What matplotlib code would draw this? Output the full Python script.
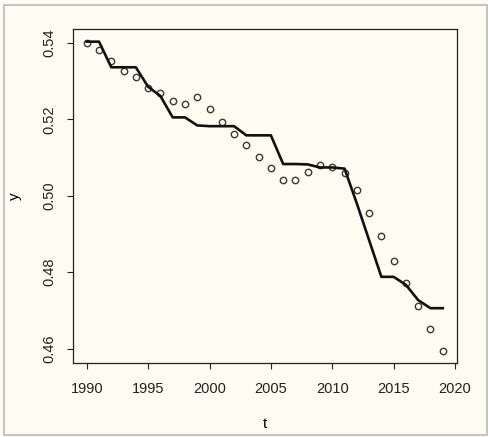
import matplotlib
matplotlib.use("Agg")
import matplotlib.pyplot as plt
from matplotlib.patches import Rectangle

# Jahre und Werte
years = [1990, 1991, 1992, 1993, 1994, 1995, 1996, 1997, 1998, 1999,
         2000, 2001, 2002, 2003, 2004, 2005, 2006, 2007, 2008, 2009,
         2010, 2011, 2012, 2013, 2014, 2015, 2016, 2017, 2018, 2019]

observed = [0.5400, 0.5381, 0.5353, 0.5326, 0.5311, 0.5282, 0.5269, 0.5248, 0.5239, 0.5259,
            0.5227, 0.5193, 0.5161, 0.5132, 0.5101, 0.5072, 0.5040, 0.5040, 0.5063, 0.5080,
            0.5074, 0.5060, 0.5016, 0.4956, 0.4895, 0.4830, 0.4772, 0.4713, 0.4652, 0.4595]

fitted = [0.5403, 0.5403, 0.5336, 0.5336, 0.5336, 0.5285, 0.5261, 0.5205, 0.5205, 0.5184,
          0.5182, 0.5182, 0.5182, 0.5158, 0.5158, 0.5158, 0.5083, 0.5083, 0.5082, 0.5074,
          0.5074, 0.5071, 0.4980, 0.4884, 0.4788, 0.4788, 0.4767, 0.4727, 0.4706, 0.4706]

x_ticks = [1990, 1995, 2000, 2005, 2010, 2015, 2020]
y_ticks = [0.46, 0.48, 0.50, 0.52, 0.54]

bg = "#fcfcf1"
plt.rcParams["font.family"] = ["Liberation Sans", "DejaVu Sans"]

fig = plt.figure(figsize=(4.89, 4.37), dpi=100, facecolor=bg)
ax = fig.add_axes([72.5 / 489, 1 - 363 / 437, (457 - 72.5) / 489, (363 - 29.3) / 437])
ax.set_facecolor(bg)

# Punkte und Linie
ax.plot(years, observed, linestyle="none", marker="o", markersize=4.6,
        markerfacecolor="none", markeredgecolor="#3a3a3a", markeredgewidth=1.0)
ax.plot(years, fitted, color="#111111", linewidth=1.9)

ax.margins(x=0.04, y=0.04)
ax.set_xticks(x_ticks)
ax.set_yticks(y_ticks)
ax.set_yticklabels(["%.2f" % v for v in y_ticks], rotation=90, va="center")
ax.tick_params(direction="out", length=4.5, width=0.8, labelsize=10.5, colors="#222222")
ax.tick_params(axis="x", pad=9.5)
ax.tick_params(axis="y", pad=7)
for s in ax.spines.values():
    s.set_linewidth(0.9)
    s.set_color("#222222")

ax.set_xlabel("t", fontsize=11, labelpad=15)
ax.set_ylabel("y", fontsize=11, labelpad=15)

# grauer Rahmen um das ganze Bild
fig.patches.append(Rectangle((4 / 489, 2 / 437), 483 / 489, 430 / 437,
                             transform=fig.transFigure, fill=False,
                             edgecolor="#c4c4c4", linewidth=1.5))

fig.savefig("out.png", dpi=100, facecolor=bg)
